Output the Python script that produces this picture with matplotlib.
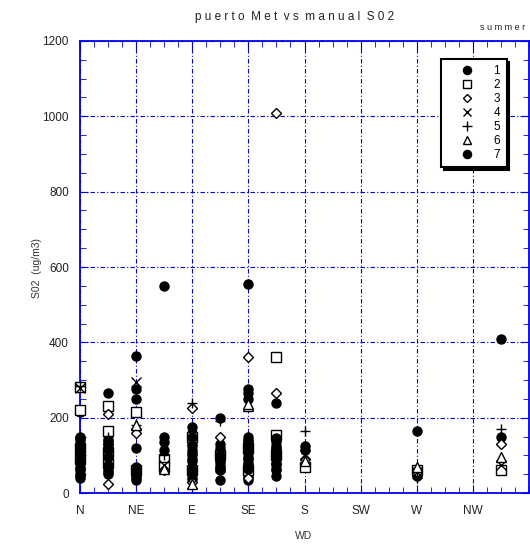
import matplotlib
matplotlib.use("Agg")
import matplotlib.pyplot as plt
from matplotlib.ticker import MultipleLocator, FixedLocator

plt.rcParams['font.family'] = ['Liberation Sans', 'DejaVu Sans']

dir_labels = ['N', 'NE', 'E', 'SE', 'S', 'SW', 'W', 'NW']
dir_ticks = [0, 45, 90, 135, 180, 225, 270, 315]

# series 1 (filled circle)
wd1 = [0]*13 + [22.5]*11 + [45]*9 + [67.5]*6 + [90]*10 + [112.5]*7 + [135]*13 + [157.5]*9 + [180]*2 + [270]*2 + [337.5]*2
so1 = [215, 150, 140, 130, 120, 110, 100, 90, 80, 70, 60, 50, 40,
       265, 140, 130, 120, 110, 100, 90, 80, 70, 60, 50,
       365, 275, 250, 120, 70, 60, 50, 40, 35,
       550, 150, 135, 115, 95, 80,
       175, 160, 145, 130, 115, 100, 85, 70, 55, 40,
       198, 130, 110, 90, 75, 60, 35,
       555, 275, 265, 250, 150, 135, 120, 105, 90, 75, 60, 45, 35,
       240, 150, 135, 120, 105, 90, 75, 60, 45,
       125, 115,
       165, 45,
       408, 150]
# series 2 (open square)
wd2 = [0, 0, 0, 0, 22.5, 22.5, 22.5, 22.5, 45, 45, 67.5, 67.5, 90, 90, 112.5, 135, 135, 157.5, 157.5, 157.5, 180, 270, 337.5]
so2 = [282, 220, 120, 90, 232, 165, 110, 80, 215, 60, 90, 70, 150, 60, 100, 120, 60, 360, 155, 100, 70, 60, 60]
# series 3 (open diamond)
wd3 = [0, 22.5, 22.5, 22.5, 45, 45, 67.5, 90, 90, 112.5, 135, 135, 157.5, 157.5, 157.5, 180, 270, 337.5]
so3 = [90, 210, 120, 25, 170, 160, 60, 225, 30, 150, 360, 40, 1010, 265, 140, 90, 55, 130]
# series 4 (x)
wd4 = [0, 0, 22.5, 45, 67.5, 90, 112.5, 135, 157.5, 180, 270, 337.5]
so4 = [280, 110, 130, 295, 75, 25, 70, 100, 90, 100, 55, 75]
# series 5 (+)
wd5 = [0, 0, 22.5, 45, 67.5, 90, 112.5, 135, 157.5, 180, 270, 337.5]
so5 = [285, 150, 150, 180, 100, 240, 190, 140, 80, 165, 40, 170]
# series 6 (open triangle)
wd6 = [0, 22.5, 45, 67.5, 90, 90, 112.5, 135, 135, 157.5, 180, 270, 337.5]
so6 = [120, 140, 180, 65, 25, 155, 80, 230, 235, 130, 85, 70, 95]
# series 7 (filled circle)
wd7 = [0]*6 + [22.5]*5 + [45]*3 + [90]*6 + [112.5]*4 + [135]*6 + [157.5]*6
so7 = [145, 125, 105, 85, 65, 45,
       135, 115, 95, 75, 55,
       65, 55, 45,
       150, 125, 105, 90, 65, 50,
       120, 100, 85, 65,
       140, 125, 110, 95, 80, 65,
       145, 125, 110, 95, 80, 65]

fig = plt.figure(figsize=(5.30, 5.47), dpi=100)
ax = fig.add_axes([80/530, 1 - 493/547, 449/530, (493 - 41)/547])

ms = 6.5
kw = dict(ls='none', clip_on=False, zorder=3)
ax.plot(wd1, so1, 'o', ms=ms, mfc='black', mec='black', label='1', **kw)
ax.plot(wd2, so2, 's', ms=ms, mfc='white', mec='black', mew=1, label='2', **kw)
ax.plot(wd3, so3, 'D', ms=5, mfc='white', mec='black', mew=1, label='3', **kw)
ax.plot(wd4, so4, 'x', ms=ms, color='black', mew=1, label='4', **kw)
ax.plot(wd5, so5, '+', ms=ms+1, color='black', mew=1, label='5', **kw)
ax.plot(wd6, so6, '^', ms=ms, mfc='white', mec='black', mew=1, label='6', **kw)
ax.plot(wd7, so7, 'o', ms=ms, mfc='black', mec='black', label='7', **kw)

ax.set_xlim(0, 360)
ax.set_ylim(0, 1200)
ax.xaxis.set_major_locator(FixedLocator(dir_ticks))
ax.set_xticklabels(dir_labels)
ax.xaxis.set_minor_locator(MultipleLocator(11.25))
ax.yaxis.set_major_locator(MultipleLocator(200))
ax.yaxis.set_minor_locator(MultipleLocator(50))

ax.grid(True, which='major', color='#0000dd', linestyle=(0, (4, 2, 1, 2)), linewidth=0.8)
for s in ax.spines.values():
    s.set_color('#0000ee')
    s.set_linewidth(1.3)
ax.tick_params(which='both', direction='in', color='#0000ee', top=True, right=True,
               labelsize=8.5, labelcolor='#222222')
ax.tick_params(which='major', length=6, pad=8)
ax.tick_params(which='minor', length=4)
ax.tick_params(axis='x', which='major', pad=9)

fig.text(304/530, 1 - 536/547, 'WD', ha='center', va='center', fontsize=7.5, color='#333333')
fig.text(37/530, 1 - 268/547, 'S02  (ug/m3)', ha='center', va='center', rotation=90,
         fontsize=7.5, color='#333333')
fig.text(0.555, 1 - 17/547, 'p u e r t o  M e t  v s  m a n u a l  S 0 2', ha='center', va='center',
         fontsize=8.5, color='#222222')
fig.text(503/530, 1 - 27/547, 's u m m e r', ha='center', va='center', fontsize=6.5, color='#222222')

leg = ax.legend(loc='upper left', bbox_to_anchor=((441 - 80)/449, 1 - (59 - 41)/452),
                frameon=True, fancybox=False, shadow={'color': 'black', 'alpha': 1},
                fontsize=8.5, handlelength=3.3, handletextpad=0.6, labelspacing=0.16,
                borderpad=0.55, borderaxespad=0, numpoints=1, markerscale=0.9)
leg.get_frame().set_edgecolor('black')
leg.get_frame().set_linewidth(1.5)
leg.get_frame().set_alpha(1)

fig.savefig('out.png', dpi=100)
